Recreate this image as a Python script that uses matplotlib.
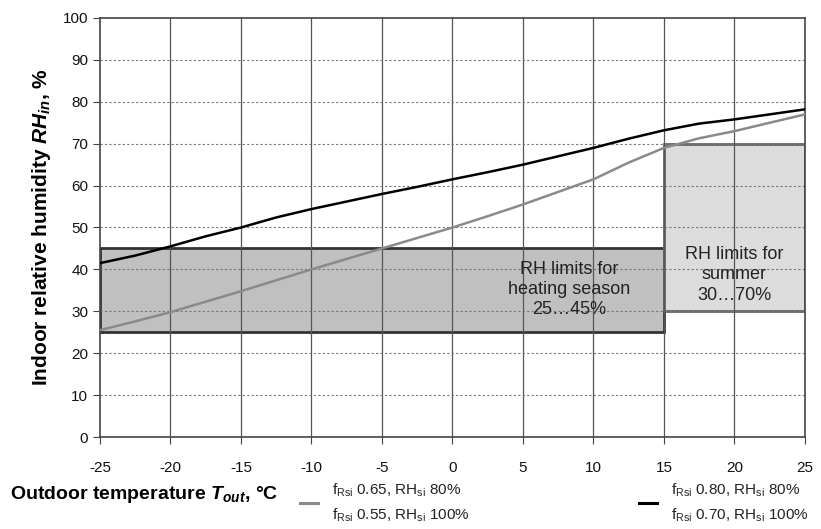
import matplotlib
matplotlib.use("Agg")
import matplotlib.pyplot as plt
from matplotlib.patches import Rectangle
from matplotlib.lines import Line2D

plt.rcParams['font.family'] = ['Liberation Sans', 'DejaVu Sans']
plt.rcParams['mathtext.fontset'] = 'custom'
plt.rcParams['mathtext.rm'] = 'Liberation Sans'
plt.rcParams['mathtext.it'] = 'Liberation Sans:italic'
plt.rcParams['mathtext.bf'] = 'Liberation Sans:bold:italic'
plt.rcParams['axes.unicode_minus'] = False

# Data
t_out = [-25, -22.5, -20, -17.5, -15, -12.5, -10, -7.5, -5, -2.5, 0, 2.5, 5, 7.5, 10, 12.5, 15, 17.5, 20, 22.5, 25]
rh_gray = [25.5, 27.6, 29.8, 32.3, 34.8, 37.4, 40, 42.5, 45, 47.5, 50, 52.7, 55.5, 58.5, 61.5, 65.5, 69, 71.3, 73, 75, 77]
rh_black = [41.5, 43.3, 45.5, 47.9, 50, 52.4, 54.4, 56.2, 58, 59.7, 61.5, 63.2, 65, 67, 69, 71.2, 73.2, 74.8, 75.8, 77, 78.2]

heating = (-25, 15, 25, 45)   # x0, x1, y0, y1
summer = (15, 25, 30, 70)

fig = plt.figure(figsize=(8.21, 5.29), dpi=100)
ax = fig.add_axes([0.1218, 0.1739, 0.8587, 0.7921])

# limit boxes
ax.add_patch(Rectangle((heating[0], heating[2]), heating[1] - heating[0], heating[3] - heating[2],
                       facecolor='#c0c0c0', edgecolor='#333333', lw=2, zorder=1))
ax.add_patch(Rectangle((summer[0], summer[2]), summer[1] - summer[0], summer[3] - summer[2],
                       facecolor='#dcdcdc', edgecolor='#666666', lw=2, zorder=1))

# grid above boxes
for x in range(-20, 25, 5):
    ax.axvline(x, color='#555555', lw=0.9, zorder=2)
for y in range(10, 100, 10):
    ax.axhline(y, color='#777777', lw=0.8, ls=(0, (2, 2)), zorder=2)

ax.plot(t_out, rh_gray, color='#8a8a8a', lw=1.8, zorder=3)
ax.plot(t_out, rh_black, color='black', lw=1.8, zorder=3)

ax.text(8.3, 35.2, 'RH limits for\nheating season\n25…45%', ha='center', va='center',
        fontsize=13, color='#222222', zorder=4, linespacing=1.25)
ax.text(20, 38.7, 'RH limits for\nsummer\n30…70%', ha='center', va='center',
        fontsize=13, color='#222222', zorder=4, linespacing=1.25)

ax.set_xlim(-25, 25)
ax.set_ylim(0, 100)
ax.set_xticks(range(-25, 30, 5))
ax.set_yticks(range(0, 110, 10))
ax.tick_params(axis='both', labelsize=11, color='#444444', length=5, labelcolor='#111111')
ax.tick_params(axis='x', pad=12)
for s in ax.spines.values():
    s.set_color('#444444')
    s.set_linewidth(1.2)

ax.set_ylabel(r'Indoor relative humidity $\mathbf{RH_{in}}$, %', fontsize=15,
              fontweight='bold', labelpad=7)

fig.text(0.012, 0.065, r'Outdoor temperature $\mathbf{T_{out}}$, °C', fontsize=14,
         fontweight='bold', va='center')

gray_label = r'f$_{\mathrm{Rsi}}$ 0.65, RH$_{\mathrm{si}}$ 80%' + '\n' + r'f$_{\mathrm{Rsi}}$ 0.55, RH$_{\mathrm{si}}$ 100%'
black_label = r'f$_{\mathrm{Rsi}}$ 0.80, RH$_{\mathrm{si}}$ 80%' + '\n' + r'f$_{\mathrm{Rsi}}$ 0.70, RH$_{\mathrm{si}}$ 100%'
leg1 = fig.legend([Line2D([0], [0], color='#8a8a8a', lw=2.2)], [gray_label], loc='center left',
                  bbox_to_anchor=(0.365, 0.05), frameon=False, fontsize=11, handlelength=1.2,
                  handletextpad=0.9, labelcolor='#222222', borderaxespad=0, borderpad=0)
leg2 = fig.legend([Line2D([0], [0], color='black', lw=2.2)], [black_label], loc='center right',
                  bbox_to_anchor=(0.985, 0.05), frameon=False, fontsize=11, handlelength=1.2,
                  handletextpad=0.9, labelcolor='#222222', borderaxespad=0, borderpad=0)
for leg in (leg1, leg2):
    for t in leg.get_texts():
        t.set_linespacing(1.6)

fig.savefig('out.png', dpi=100)
